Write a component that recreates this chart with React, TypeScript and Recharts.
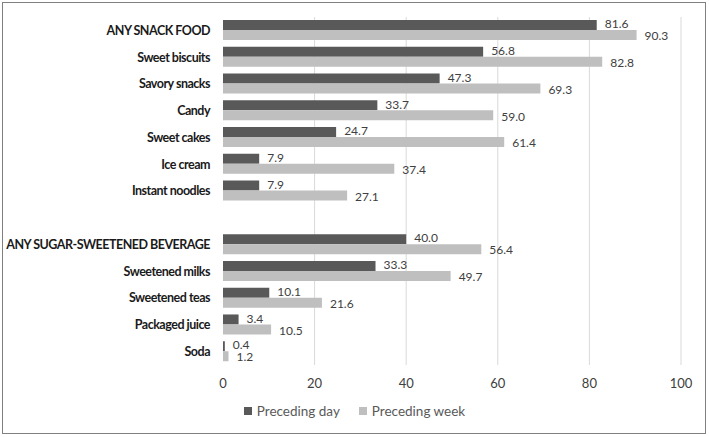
import React from 'react';
import {
  BarChart,
  Bar,
  XAxis,
  YAxis,
  CartesianGrid,
  LabelList,
  Legend,
} from 'recharts';

const categories = [
  'ANY SNACK FOOD',
  'Sweet biscuits',
  'Savory snacks',
  'Candy',
  'Sweet cakes',
  'Ice cream',
  'Instant noodles',
  '',
  'ANY SUGAR-SWEETENED BEVERAGE',
  'Sweetened milks',
  'Sweetened teas',
  'Packaged juice',
  'Soda',
];
const precedingDay = [81.6, 56.8, 47.3, 33.7, 24.7, 7.9, 7.9, null, 40.0, 33.3, 10.1, 3.4, 0.4];
const precedingWeek = [90.3, 82.8, 69.3, 59.0, 61.4, 37.4, 27.1, null, 56.4, 49.7, 21.6, 10.5, 1.2];
const xTicks = [0, 20, 40, 60, 80, 100];

const data = categories.map((name, i) => ({
  name,
  day: precedingDay[i],
  week: precedingWeek[i],
}));

const FONT = 'Lato, "Open Sans", sans-serif';
const DARK = '#595959';
const LIGHT = '#bfbfbf';

// bold category name, one line, right-aligned against the plot
function CategoryTick(props: any) {
  const { x, y, payload } = props;
  return (
    <text
      x={x}
      y={y}
      dy="0.35em"
      textAnchor="end"
      fill="#1a1a1a"
      fontSize={12.5}
      fontWeight={700}
      letterSpacing={-0.5}
      fontFamily={FONT}
    >
      {payload.value}
    </text>
  );
}

// value at the end of each bar; shift nudges the pair apart a little
const valueLabel = (shift: number) => (props: any) => {
  const { x, y, width, height, value } = props;
  if (value == null) return null;
  return (
    <text
      x={x + width + 8}
      y={y + height / 2 + shift}
      dy="0.35em"
      fill="#404040"
      fontSize={12}
      fontFamily={FONT}
    >
      {Number(value).toFixed(1)}
    </text>
  );
};

function LegendBox() {
  const items = [
    { label: 'Preceding day', color: DARK },
    { label: 'Preceding week', color: LIGHT },
  ];
  return (
    <div
      style={{
        display: 'flex',
        justifyContent: 'center',
        gap: 19,
        paddingTop: 8,
        fontFamily: FONT,
        fontSize: 13.5,
        color: '#595959',
      }}
    >
      {items.map((it) => (
        <div key={it.label} style={{ display: 'flex', alignItems: 'center', gap: 5 }}>
          <span style={{ width: 8, height: 8, background: it.color, display: 'inline-block' }} />
          <span>{it.label}</span>
        </div>
      ))}
    </div>
  );
}

export default function App() {
  return (
    <div style={{ position: 'absolute', left: 0, top: 0, width: 709, height: 437, background: '#fff' }}>
      <div
        style={{
          position: 'absolute',
          left: 2,
          top: 2,
          width: 702,
          height: 430,
          border: '1px solid #808080',
        }}
      />
      <BarChart
        width={709}
        height={437}
        data={data}
        layout="vertical"
        margin={{ top: 17, right: 28, left: 0, bottom: 10 }}
        barSize={10}
        barGap={0}
      >
        <CartesianGrid horizontal={false} stroke="#d9d9d9" verticalValues={[20, 40, 60, 80, 100]} />
        <XAxis
          type="number"
          domain={[0, 100]}
          ticks={xTicks}
          axisLine={false}
          tickLine={false}
          tickMargin={8}
          height={30}
          tick={{ fill: '#404040', fontSize: 13, fontFamily: FONT }}
        />
        <YAxis
          type="category"
          dataKey="name"
          width={223}
          axisLine={false}
          tickLine={false}
          tickMargin={7}
          interval={0}
          tick={<CategoryTick />}
        />
        <Legend
          verticalAlign="bottom"
          content={() => <LegendBox />}
          wrapperStyle={{ left: 0, width: 709, height: 32 }}
        />
        <Bar dataKey="day" name="Preceding day" fill={DARK} isAnimationActive={false}>
          <LabelList dataKey="day" content={valueLabel(-1)} />
        </Bar>
        <Bar dataKey="week" name="Preceding week" fill={LIGHT} isAnimationActive={false}>
          <LabelList dataKey="week" content={valueLabel(1)} />
        </Bar>
      </BarChart>
    </div>
  );
}
